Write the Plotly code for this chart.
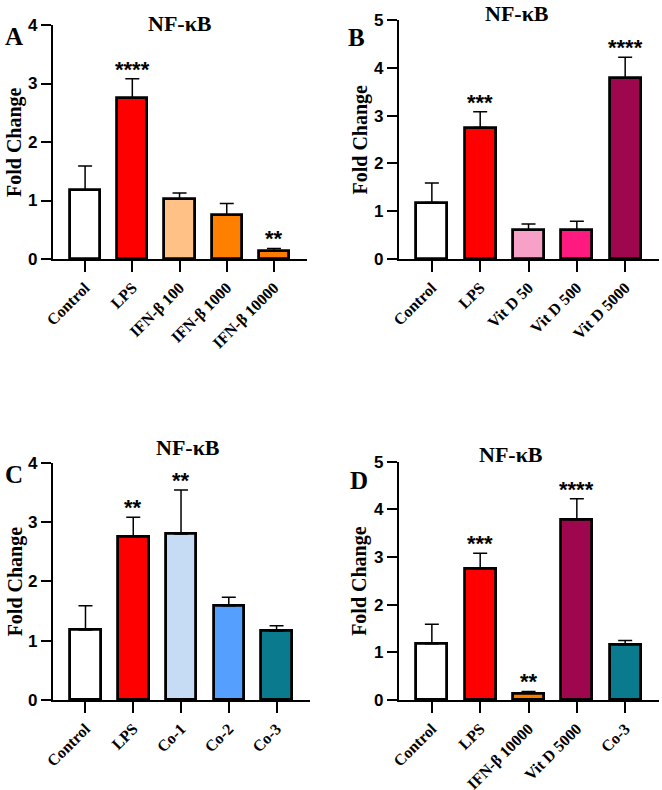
import plotly.graph_objects as go

# ---------------- data ----------------
cats_A = ["Control", "LPS", "IFN-β 100", "IFN-β 1000", "IFN-β 10000"]
vals_A = [1.18, 2.75, 1.03, 0.75, 0.14]
err_A = [0.41, 0.33, 0.10, 0.20, 0.04]
stars_A = ["", "****", "", "", "**"]
cols_A = ["#FFFFFF", "#FF0000", "#FFC185", "#FF8000", "#FF7B00"]

cats_B = ["Control", "LPS", "Vit D 50", "Vit D 500", "Vit D 5000"]
vals_B = [1.18, 2.75, 0.61, 0.60, 3.78]
err_B = [0.41, 0.33, 0.12, 0.19, 0.44]
stars_B = ["", "***", "", "", "****"]
cols_B = ["#FFFFFF", "#FF0000", "#F7A1C8", "#FF1A80", "#9E064E"]

cats_C = ["Control", "LPS", "Co-1", "Co-2", "Co-3"]
vals_C = [1.18, 2.75, 2.80, 1.59, 1.16]
err_C = [0.41, 0.33, 0.74, 0.14, 0.09]
stars_C = ["", "**", "**", "", ""]
cols_C = ["#FFFFFF", "#FF0000", "#C6DCF5", "#55A0FF", "#0A7B8F"]

cats_D = ["Control", "LPS", "IFN-β 10000", "Vit D 5000", "Co-3"]
vals_D = [1.18, 2.75, 0.14, 3.78, 1.16]
err_D = [0.41, 0.33, 0.04, 0.44, 0.09]
stars_D = ["", "***", "**", "****", ""]
cols_D = ["#FFFFFF", "#FF0000", "#FF7B00", "#9E064E", "#0A7B8F"]

y_max = [4, 5, 4, 5]
panel_letters = ["A", "B", "C", "D"]
title_text = "NF-κB"
y_title = "Fold Change"

# ---------------- layout geometry ----------------
W, H = 662, 790
def px(x):
    return x / W
def py(y):
    return 1 - y / H

# (x_left, x_right, y_top, y_bottom) of each plot area in pixels
boxes = [(53, 307, 25, 259), (399, 659, 20, 259), (53, 310, 462.7, 700), (399, 659, 461.7, 700)]
letter_pos = [(3, 36), (346, 37), (3, 474), (348, 480)]
title_pos = [(180, 23), (517, 14), (188, 447), (511, 455)]
ylab_x = [15, 360, 15, 360]

panels = [
    (cats_A, vals_A, err_A, stars_A, cols_A),
    (cats_B, vals_B, err_B, stars_B, cols_B),
    (cats_C, vals_C, err_C, stars_C, cols_C),
    (cats_D, vals_D, err_D, stars_D, cols_D),
]

fig = go.Figure()
annotations = []
layout_axes = {}

serif = "Liberation Serif"
sans = "Liberation Sans"

for i, (cats, vals, errs, stars, cols) in enumerate(panels):
    n = i + 1
    xa = "x" if n == 1 else f"x{n}"
    ya = "y" if n == 1 else f"y{n}"
    xl, xr, yt, yb = boxes[i]
    fig.add_trace(go.Bar(
        x=list(range(len(cats))), y=vals, xaxis=xa, yaxis=ya,
        width=0.64,
        marker=dict(color=cols, line=dict(color="black", width=2.8)),
        error_y=dict(type="data", symmetric=False, array=errs,
                     arrayminus=[0] * len(errs), color="black",
                     thickness=1.5, width=7),
        showlegend=False, hoverinfo="skip",
    ))
    xkey = "xaxis" if n == 1 else f"xaxis{n}"
    ykey = "yaxis" if n == 1 else f"yaxis{n}"
    layout_axes[xkey] = dict(
        domain=[px(xl), px(xr)], anchor=ya, range=[-0.68, 4.70], automargin=False,
        tickmode="array", tickvals=list(range(len(cats))), ticktext=cats,
        tickangle=-45, ticks="outside", ticklen=11, tickwidth=2.2, tickcolor="black",
        showline=True, linecolor="black", linewidth=2.4, showgrid=False,
        zeroline=False, fixedrange=True,
        tickfont=dict(family=serif, size=16, color="black", weight="bold"),
    )
    layout_axes[ykey] = dict(
        domain=[py(yb), py(yt)], anchor=xa, range=[0, y_max[i]], automargin=False,
        tickmode="linear", tick0=0, dtick=1,
        ticks="outside", ticklen=10, tickwidth=2.2, tickcolor="black",
        showline=True, linecolor="black", linewidth=2.4, showgrid=False,
        zeroline=False, fixedrange=True,
        tickfont=dict(family=sans, size=17, color="black", weight="bold"),
    )
    # significance stars
    for j, s in enumerate(stars):
        if s:
            annotations.append(dict(
                x=j, y=vals[j] + errs[j], xref=xa, yref=ya, text=s,
                showarrow=False, yanchor="bottom", xanchor="center", yshift=-5,
                font=dict(family=sans, size=22, color="black", weight="bold"),
            ))
    # panel letter
    annotations.append(dict(
        x=px(letter_pos[i][0]), y=py(letter_pos[i][1]), xref="paper", yref="paper",
        text=panel_letters[i], showarrow=False, xanchor="left", yanchor="middle",
        font=dict(family=serif, size=25, color="black", weight="bold"),
    ))
    # title
    annotations.append(dict(
        x=px(title_pos[i][0]), y=py(title_pos[i][1]), xref="paper", yref="paper",
        text=title_text, showarrow=False, xanchor="center", yanchor="middle",
        font=dict(family=serif, size=22, color="black", weight="bold"),
    ))
    # y axis title
    annotations.append(dict(
        x=px(ylab_x[i]), y=py((yt + yb) / 2), xref="paper", yref="paper",
        text=y_title, showarrow=False, textangle=-90, xanchor="center", yanchor="middle",
        font=dict(family=serif, size=20, color="black", weight="bold"),
    ))

fig.update_layout(
    width=W, height=H, margin=dict(l=0, r=0, t=0, b=0, autoexpand=False),
    paper_bgcolor="white", plot_bgcolor="white",
    annotations=annotations, bargap=0, **layout_axes,
)

fig.write_html("out.html")
